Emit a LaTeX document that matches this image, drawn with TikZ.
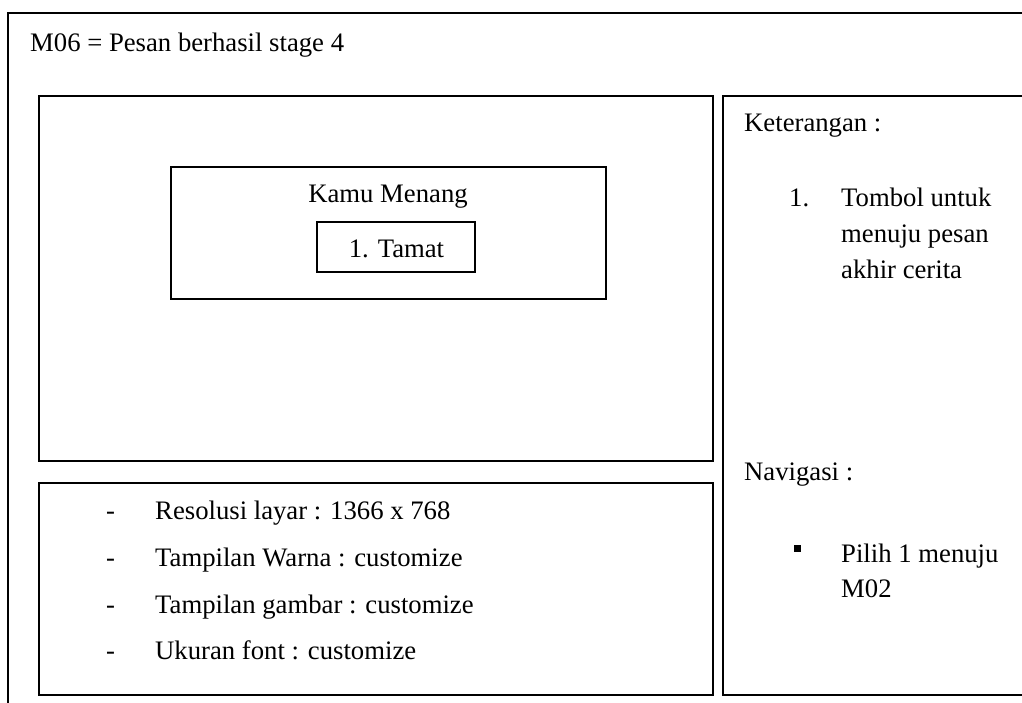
\documentclass[tikz,border=0pt]{standalone}
\usepackage{fontspec}
\setmainfont{Liberation Serif}
\begin{document}
\begin{tikzpicture}[x=1pt,y=-1pt,
  frame/.style={draw=black,line width=2pt},
  txt/.style={anchor=base west,inner sep=0pt,font=\fontsize{26.7}{32}\selectfont},
  ctxt/.style={anchor=base,inner sep=0pt,font=\fontsize{26.7}{32}\selectfont}]
  \useasboundingbox (0,0) rectangle (1022,702);
  \clip (0,0) rectangle (1022,702);
  \fill[white] (0,0) rectangle (1022,702);

  % outer page frame, running off the right and bottom edges
  \draw[frame] (8,730) -- (8,13) -- (1050,13);
  \node[txt] (title) at (30,51) {M06 = Pesan berhasil stage 4};

  % screen area
  \draw[frame] (39,96) rectangle (713,461);
  \node[frame,minimum width=435pt,minimum height=132pt,inner sep=0pt] (dialog) at (388.5,233) {};
  \node[ctxt] (menang) at (388,202) {Kamu Menang};
  \node[frame,minimum width=158pt,minimum height=50pt,inner sep=0pt] (tamat) at (396,247) {};
  \node[ctxt] (tamattxt) at (396.5,257) {1. Tamat};

  % specification box
  \draw[frame] (39,483) rectangle (713,695);
  \node[txt] (d1) at (106,519) {-};
  \node[txt] (s1) at (155,519) {Resolusi layar : 1366 x 768};
  \node[txt] (d2) at (106,566) {-};
  \node[txt] (s2) at (155,566) {Tampilan Warna : customize};
  \node[txt] (d3) at (106,613) {-};
  \node[txt] (s3) at (155,613) {Tampilan gambar : customize};
  \node[txt] (d4) at (106,659) {-};
  \node[txt] (s4) at (155,659) {Ukuran font : customize};

  % side panel with notes and navigation
  \draw[frame] (1050,96) -- (723,96) -- (723,695) -- (1050,695);
  \node[txt] (ket) at (744,131) {Keterangan :};
  \node[txt] (n1) at (789,206) {1.};
  \node[txt] (k1) at (841,206) {Tombol untuk};
  \node[txt] (k2) at (841,242) {menuju pesan};
  \node[txt] (k3) at (841,278) {akhir cerita};
  \node[txt] (nav) at (744,480) {Navigasi :};
  \fill (794,544.5) rectangle (801,551.5);
  \node[txt] (p1) at (841,562) {Pilih 1 menuju};
  \node[txt] (p2) at (841,597) {M02};
\end{tikzpicture}
\end{document}
